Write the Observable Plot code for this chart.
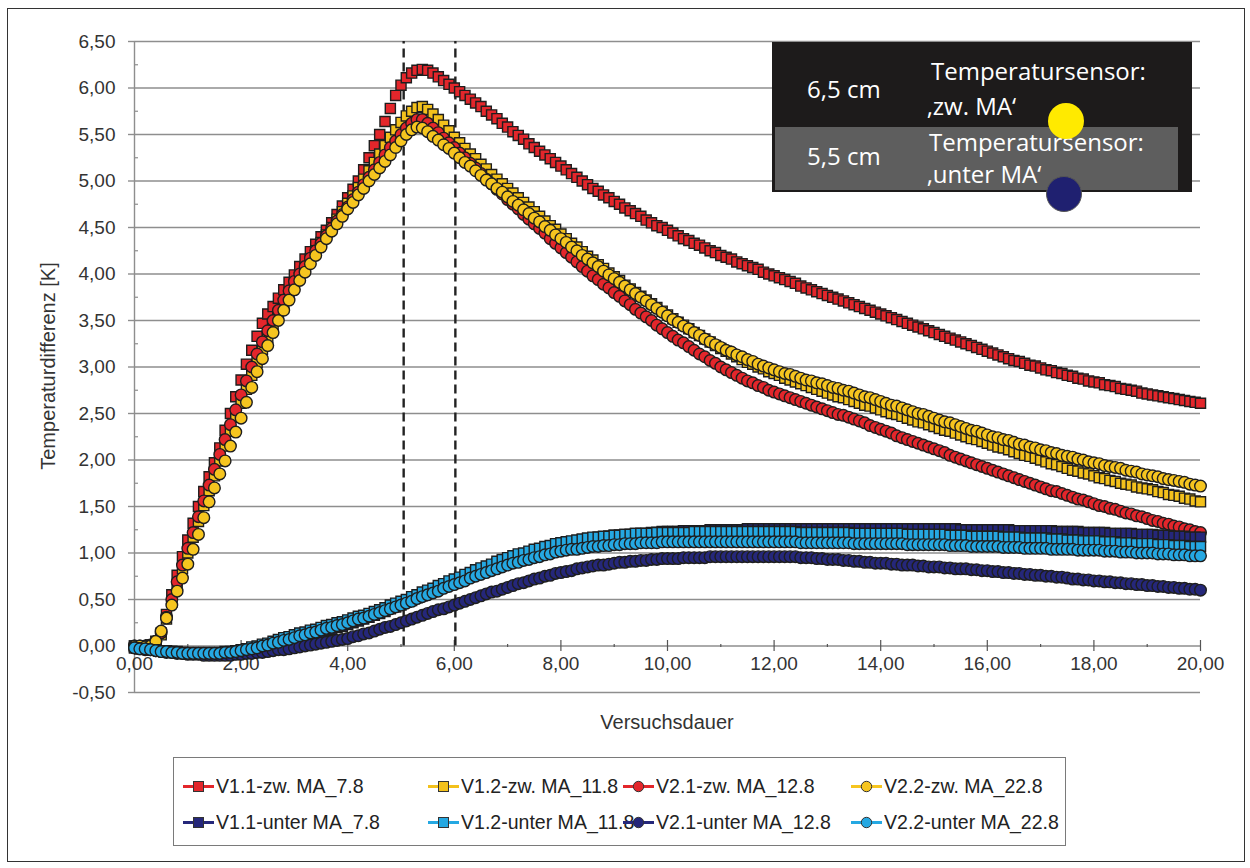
<!DOCTYPE html>
<html>
<head>
<meta charset="utf-8">
<script src="https://cdn.jsdelivr.net/npm/d3@7"></script>
<script src="https://cdn.jsdelivr.net/npm/@observablehq/plot@0.6"></script>
<style>
  html, body { margin: 0; padding: 0; background: #fff; }
  #wrap { position: relative; width: 1250px; height: 868px; overflow: hidden; background: #fff; font-family: "Liberation Sans", Arial, sans-serif; }
  #chart { position: absolute; left: 0; top: 0; }
  .abs { position: absolute; white-space: nowrap; }
  .note { font-family: "Open Sans", sans-serif; color: #fff; font-size: 24px; line-height: 1; }
  .leg { position: absolute; display: flex; align-items: center; font-size: 21px; color: #222; white-space: nowrap; }
  .leg svg { margin-right: 2px; flex: none; }
  .leg span { display: inline-block; transform: scaleX(0.93); transform-origin: left center; }
</style>
</head>
<body>
<div id="wrap">
  <div id="chart"></div>
</div>
<script>
// ---------------- data ----------------
const times = [
0,0.1,0.2,0.3,0.4,0.5,0.6,0.7,0.8,0.9,
1,1.1,1.2,1.3,1.4,1.5,1.6,1.7,1.8,1.9,
2,2.1,2.2,2.3,2.4,2.5,2.6,2.7,2.8,2.9,
3,3.1,3.2,3.3,3.4,3.5,3.6,3.7,3.8,3.9,
4,4.1,4.2,4.3,4.4,4.5,4.6,4.7,4.8,4.9,
5,5.1,5.2,5.3,5.4,5.5,5.6,5.7,5.8,5.9,
6,6.1,6.2,6.3,6.4,6.5,6.6,6.7,6.8,6.9,
7,7.1,7.2,7.3,7.4,7.5,7.6,7.7,7.8,7.9,
8,8.1,8.2,8.3,8.4,8.5,8.6,8.7,8.8,8.9,
9,9.1,9.2,9.3,9.4,9.5,9.6,9.7,9.8,9.9,
10,10.1,10.2,10.3,10.4,10.5,10.6,10.7,10.8,10.9,
11,11.1,11.2,11.3,11.4,11.5,11.6,11.7,11.8,11.9,
12,12.1,12.2,12.3,12.4,12.5,12.6,12.7,12.8,12.9,
13,13.1,13.2,13.3,13.4,13.5,13.6,13.7,13.8,13.9,
14,14.1,14.2,14.3,14.4,14.5,14.6,14.7,14.8,14.9,
15,15.1,15.2,15.3,15.4,15.5,15.6,15.7,15.8,15.9,
16,16.1,16.2,16.3,16.4,16.5,16.6,16.7,16.8,16.9,
17,17.1,17.2,17.3,17.4,17.5,17.6,17.7,17.8,17.9,
18,18.1,18.2,18.3,18.4,18.5,18.6,18.7,18.8,18.9,
19,19.1,19.2,19.3,19.4,19.5,19.6,19.7,19.8,19.9,
20];

// V1.1-zw. MA_7.8 (red squares)
const v11zw = [
0.00,0.00,0.00,0.01,0.05,0.14,0.34,0.55,0.76,0.96,
1.14,1.32,1.50,1.66,1.82,1.97,2.13,2.32,2.50,2.68,
2.86,3.03,3.18,3.33,3.47,3.57,3.65,3.74,3.83,3.91,
3.99,4.08,4.16,4.24,4.32,4.40,4.47,4.55,4.64,4.73,
4.82,4.91,5.00,5.12,5.25,5.38,5.50,5.64,5.78,5.92,
6.03,6.11,6.16,6.19,6.20,6.19,6.16,6.12,6.08,6.04,
6.00,5.96,5.92,5.88,5.84,5.80,5.75,5.71,5.67,5.62,
5.58,5.53,5.49,5.45,5.40,5.36,5.32,5.28,5.24,5.20,
5.16,5.12,5.08,5.04,5.00,4.96,4.92,4.89,4.85,4.82,
4.78,4.75,4.71,4.68,4.65,4.62,4.58,4.55,4.52,4.50,
4.47,4.44,4.41,4.38,4.36,4.33,4.31,4.28,4.25,4.23,
4.20,4.18,4.16,4.13,4.11,4.09,4.07,4.05,4.02,4.00,
3.98,3.96,3.94,3.92,3.90,3.87,3.85,3.83,3.81,3.79,
3.77,3.75,3.73,3.71,3.69,3.67,3.65,3.63,3.61,3.59,
3.57,3.55,3.53,3.51,3.49,3.47,3.45,3.43,3.41,3.39,
3.37,3.35,3.33,3.31,3.29,3.27,3.25,3.23,3.21,3.19,
3.17,3.15,3.13,3.11,3.09,3.07,3.06,3.04,3.02,3.01,
2.99,2.97,2.96,2.94,2.93,2.91,2.90,2.88,2.87,2.85,
2.84,2.83,2.81,2.80,2.79,2.77,2.76,2.75,2.74,2.72,
2.71,2.70,2.69,2.68,2.67,2.66,2.65,2.64,2.63,2.62,
2.61];

// V1.2-zw. MA_11.8 (yellow squares)
const v12zw = [
0.00,0.00,0.00,0.01,0.04,0.12,0.29,0.47,0.65,0.83,
1.00,1.17,1.34,1.51,1.67,1.83,1.99,2.15,2.31,2.46,
2.61,2.76,2.91,3.05,3.19,3.32,3.44,3.56,3.68,3.79,
3.89,3.98,4.07,4.16,4.25,4.34,4.42,4.50,4.59,4.67,
4.76,4.84,4.93,5.02,5.11,5.20,5.29,5.38,5.47,5.55,
5.63,5.70,5.75,5.79,5.80,5.77,5.72,5.66,5.60,5.54,
5.47,5.41,5.35,5.29,5.24,5.18,5.13,5.07,5.02,4.97,
4.92,4.87,4.82,4.77,4.72,4.67,4.62,4.57,4.52,4.48,
4.43,4.38,4.33,4.29,4.24,4.19,4.15,4.10,4.06,4.01,
3.97,3.93,3.88,3.84,3.80,3.76,3.72,3.68,3.64,3.60,
3.56,3.52,3.48,3.45,3.41,3.37,3.34,3.30,3.27,3.23,
3.20,3.17,3.14,3.11,3.08,3.05,3.03,3.00,2.98,2.95,
2.93,2.91,2.88,2.86,2.84,2.82,2.80,2.78,2.76,2.74,
2.72,2.70,2.68,2.67,2.65,2.63,2.61,2.59,2.58,2.56,
2.54,2.52,2.50,2.49,2.47,2.45,2.43,2.41,2.40,2.38,
2.36,2.34,2.32,2.31,2.29,2.27,2.25,2.23,2.22,2.20,
2.18,2.16,2.14,2.13,2.11,2.09,2.07,2.05,2.04,2.02,
2.00,1.98,1.96,1.95,1.93,1.91,1.89,1.88,1.86,1.85,
1.83,1.81,1.80,1.78,1.77,1.75,1.74,1.73,1.71,1.70,
1.69,1.68,1.66,1.65,1.63,1.62,1.61,1.59,1.58,1.56,
1.55];

// V2.1-zw. MA_12.8 (red circles)
const v21zw = [
0.00,0.00,0.00,0.01,0.05,0.14,0.31,0.50,0.69,0.87,
1.05,1.22,1.39,1.56,1.73,1.90,2.06,2.22,2.38,2.54,
2.70,2.85,3.00,3.14,3.27,3.39,3.50,3.61,3.72,3.82,
3.92,4.00,4.08,4.17,4.25,4.33,4.41,4.49,4.57,4.64,
4.72,4.80,4.88,4.96,5.04,5.12,5.20,5.28,5.36,5.43,
5.50,5.57,5.62,5.66,5.66,5.62,5.57,5.52,5.46,5.41,
5.36,5.30,5.25,5.19,5.14,5.08,5.02,4.97,4.91,4.86,
4.80,4.75,4.70,4.64,4.59,4.54,4.49,4.44,4.38,4.33,
4.28,4.23,4.18,4.13,4.08,4.03,3.98,3.94,3.89,3.85,
3.80,3.76,3.71,3.67,3.62,3.58,3.54,3.50,3.45,3.41,
3.37,3.33,3.29,3.26,3.22,3.18,3.14,3.11,3.07,3.04,
3.00,2.97,2.94,2.91,2.88,2.85,2.83,2.80,2.78,2.75,
2.73,2.71,2.69,2.67,2.65,2.63,2.61,2.59,2.57,2.55,
2.53,2.51,2.49,2.48,2.46,2.44,2.42,2.40,2.37,2.35,
2.33,2.31,2.29,2.26,2.24,2.22,2.20,2.18,2.16,2.14,
2.12,2.10,2.08,2.05,2.03,2.01,1.99,1.97,1.95,1.93,
1.91,1.89,1.87,1.85,1.83,1.81,1.79,1.77,1.75,1.73,
1.71,1.69,1.67,1.66,1.64,1.62,1.60,1.58,1.57,1.55,
1.53,1.51,1.50,1.48,1.47,1.45,1.43,1.42,1.40,1.39,
1.37,1.35,1.34,1.32,1.31,1.29,1.28,1.26,1.25,1.23,
1.22];

// V2.2-zw. MA_22.8 (yellow circles)
const v22zw = [
0.00,0.00,-0.01,0.00,0.05,0.16,0.30,0.44,0.59,0.73,
0.88,1.04,1.20,1.38,1.55,1.70,1.85,1.99,2.15,2.30,
2.45,2.62,2.78,2.95,3.09,3.23,3.37,3.50,3.61,3.72,
3.83,3.93,4.02,4.11,4.20,4.29,4.38,4.46,4.54,4.62,
4.70,4.77,4.85,4.92,5.00,5.07,5.14,5.21,5.28,5.36,
5.43,5.50,5.55,5.58,5.57,5.53,5.48,5.44,5.39,5.35,
5.30,5.25,5.20,5.16,5.11,5.06,5.01,4.97,4.92,4.88,
4.83,4.78,4.74,4.69,4.65,4.60,4.56,4.51,4.47,4.42,
4.38,4.34,4.29,4.25,4.20,4.16,4.12,4.08,4.03,3.99,
3.95,3.91,3.87,3.83,3.79,3.75,3.71,3.67,3.63,3.59,
3.55,3.51,3.48,3.44,3.41,3.37,3.34,3.30,3.27,3.24,
3.21,3.18,3.16,3.13,3.11,3.08,3.06,3.03,3.01,2.99,
2.97,2.95,2.93,2.92,2.90,2.88,2.86,2.85,2.83,2.82,
2.80,2.78,2.77,2.75,2.74,2.72,2.70,2.68,2.67,2.65,
2.63,2.61,2.59,2.58,2.56,2.54,2.52,2.50,2.49,2.47,
2.45,2.43,2.41,2.40,2.38,2.36,2.34,2.32,2.31,2.29,
2.27,2.25,2.24,2.22,2.21,2.19,2.17,2.16,2.14,2.13,
2.11,2.10,2.08,2.07,2.05,2.04,2.03,2.01,2.00,1.98,
1.97,1.96,1.94,1.93,1.92,1.91,1.89,1.88,1.87,1.85,
1.84,1.83,1.82,1.80,1.79,1.78,1.77,1.76,1.74,1.73,
1.72];

// V1.1-unter MA_7.8 (navy squares)
const v11unter = [
-0.02,-0.03,-0.03,-0.04,-0.04,-0.05,-0.06,-0.06,-0.07,-0.07,
-0.08,-0.08,-0.08,-0.08,-0.08,-0.08,-0.08,-0.08,-0.07,-0.07,
-0.06,-0.05,-0.04,-0.03,-0.02,-0.01,0.01,0.02,0.04,0.05,
0.07,0.09,0.10,0.12,0.13,0.15,0.17,0.18,0.20,0.21,
0.23,0.25,0.27,0.29,0.31,0.33,0.35,0.37,0.40,0.42,
0.44,0.47,0.49,0.52,0.54,0.57,0.60,0.62,0.65,0.67,
0.70,0.72,0.75,0.77,0.80,0.82,0.84,0.86,0.89,0.91,
0.93,0.95,0.97,0.98,1.00,1.02,1.03,1.05,1.06,1.08,
1.09,1.10,1.12,1.13,1.14,1.15,1.16,1.17,1.17,1.18,
1.19,1.19,1.20,1.20,1.21,1.21,1.21,1.22,1.22,1.23,
1.23,1.23,1.23,1.24,1.24,1.24,1.24,1.24,1.25,1.25,
1.25,1.25,1.25,1.25,1.25,1.26,1.26,1.26,1.26,1.26,
1.26,1.26,1.26,1.26,1.26,1.26,1.26,1.26,1.26,1.26,
1.26,1.26,1.26,1.26,1.26,1.26,1.26,1.26,1.26,1.26,
1.26,1.26,1.26,1.26,1.26,1.26,1.26,1.26,1.26,1.26,
1.26,1.26,1.26,1.26,1.26,1.25,1.25,1.25,1.25,1.25,
1.25,1.25,1.25,1.25,1.25,1.24,1.24,1.24,1.24,1.24,
1.24,1.24,1.24,1.23,1.23,1.23,1.23,1.23,1.22,1.22,
1.22,1.22,1.22,1.21,1.21,1.21,1.21,1.21,1.20,1.20,
1.20,1.20,1.19,1.19,1.19,1.18,1.18,1.18,1.17,1.17,
1.17];

// V1.2-unter MA_11.8 (light blue squares)
const v12unter = [
-0.02,-0.03,-0.03,-0.04,-0.04,-0.05,-0.05,-0.06,-0.06,-0.07,
-0.07,-0.07,-0.07,-0.07,-0.07,-0.07,-0.07,-0.06,-0.06,-0.05,
-0.04,-0.03,-0.01,0.00,0.02,0.03,0.05,0.07,0.09,0.10,
0.12,0.14,0.15,0.17,0.18,0.20,0.22,0.23,0.25,0.26,
0.28,0.30,0.32,0.33,0.35,0.37,0.39,0.41,0.44,0.46,
0.48,0.50,0.53,0.55,0.58,0.60,0.62,0.65,0.67,0.70,
0.72,0.74,0.77,0.79,0.82,0.84,0.86,0.88,0.91,0.93,
0.95,0.97,0.99,1.00,1.02,1.04,1.05,1.07,1.08,1.10,
1.11,1.12,1.13,1.14,1.15,1.16,1.17,1.17,1.18,1.18,
1.19,1.19,1.20,1.20,1.21,1.21,1.21,1.21,1.22,1.22,
1.22,1.22,1.22,1.22,1.22,1.23,1.23,1.23,1.23,1.23,
1.23,1.23,1.23,1.23,1.23,1.23,1.23,1.23,1.23,1.23,
1.23,1.23,1.23,1.23,1.23,1.22,1.22,1.22,1.22,1.22,
1.22,1.22,1.22,1.22,1.22,1.21,1.21,1.21,1.21,1.21,
1.21,1.21,1.21,1.21,1.21,1.20,1.20,1.20,1.20,1.20,
1.20,1.20,1.20,1.19,1.19,1.19,1.19,1.18,1.18,1.18,
1.18,1.18,1.18,1.17,1.17,1.17,1.17,1.16,1.16,1.16,
1.16,1.16,1.15,1.15,1.15,1.14,1.14,1.14,1.13,1.13,
1.13,1.13,1.12,1.12,1.12,1.11,1.11,1.11,1.10,1.10,
1.10,1.10,1.09,1.09,1.09,1.08,1.08,1.08,1.07,1.07,
1.07];

// V2.1-unter MA_12.8 (navy circles)
const v21unter = [
-0.02,-0.03,-0.04,-0.04,-0.05,-0.06,-0.07,-0.07,-0.08,-0.08,
-0.09,-0.09,-0.09,-0.10,-0.10,-0.10,-0.10,-0.10,-0.10,-0.09,
-0.09,-0.08,-0.08,-0.07,-0.07,-0.06,-0.05,-0.04,-0.04,-0.03,
-0.02,-0.01,0.00,0.01,0.02,0.03,0.04,0.05,0.06,0.07,
0.08,0.10,0.11,0.13,0.14,0.16,0.18,0.20,0.21,0.23,
0.25,0.27,0.29,0.31,0.33,0.35,0.37,0.39,0.40,0.42,
0.44,0.46,0.48,0.50,0.52,0.54,0.56,0.58,0.59,0.61,
0.63,0.65,0.67,0.68,0.70,0.72,0.73,0.75,0.76,0.78,
0.79,0.80,0.81,0.83,0.84,0.85,0.86,0.87,0.87,0.88,
0.89,0.90,0.90,0.91,0.91,0.92,0.92,0.93,0.93,0.94,
0.94,0.94,0.94,0.95,0.95,0.95,0.95,0.95,0.96,0.96,
0.96,0.96,0.96,0.96,0.96,0.96,0.96,0.96,0.96,0.96,
0.96,0.96,0.96,0.96,0.96,0.95,0.95,0.95,0.94,0.94,
0.93,0.93,0.93,0.92,0.92,0.91,0.91,0.90,0.90,0.89,
0.89,0.89,0.88,0.88,0.87,0.87,0.87,0.86,0.86,0.85,
0.85,0.85,0.84,0.84,0.83,0.83,0.83,0.82,0.82,0.81,
0.81,0.80,0.80,0.79,0.79,0.78,0.78,0.77,0.77,0.76,
0.76,0.75,0.75,0.74,0.74,0.73,0.72,0.72,0.71,0.71,
0.70,0.70,0.69,0.69,0.68,0.68,0.67,0.67,0.66,0.66,
0.65,0.65,0.64,0.64,0.63,0.63,0.62,0.62,0.61,0.61,
0.60];

// V2.2-unter MA_22.8 (light blue circles)
const v22unter = [
-0.02,-0.03,-0.03,-0.04,-0.05,-0.06,-0.06,-0.07,-0.07,-0.08,
-0.08,-0.08,-0.08,-0.08,-0.08,-0.08,-0.08,-0.07,-0.07,-0.06,
-0.05,-0.04,-0.03,-0.02,0.00,0.01,0.03,0.04,0.06,0.07,
0.09,0.11,0.12,0.14,0.15,0.17,0.19,0.20,0.22,0.23,
0.25,0.27,0.29,0.30,0.32,0.34,0.36,0.38,0.40,0.42,
0.44,0.46,0.48,0.51,0.53,0.55,0.57,0.59,0.62,0.64,
0.66,0.68,0.70,0.73,0.75,0.77,0.79,0.81,0.83,0.85,
0.87,0.89,0.90,0.92,0.93,0.95,0.96,0.98,0.99,1.01,
1.02,1.03,1.04,1.04,1.05,1.06,1.07,1.07,1.08,1.08,
1.09,1.09,1.10,1.10,1.10,1.11,1.11,1.11,1.11,1.12,
1.12,1.12,1.12,1.12,1.12,1.12,1.12,1.12,1.12,1.12,
1.12,1.12,1.12,1.12,1.12,1.12,1.12,1.12,1.12,1.12,
1.12,1.12,1.12,1.12,1.12,1.11,1.11,1.11,1.11,1.11,
1.11,1.11,1.11,1.11,1.11,1.10,1.10,1.10,1.10,1.10,
1.10,1.10,1.10,1.10,1.10,1.09,1.09,1.09,1.09,1.09,
1.09,1.09,1.09,1.08,1.08,1.08,1.08,1.07,1.07,1.07,
1.07,1.07,1.07,1.06,1.06,1.06,1.06,1.05,1.05,1.05,
1.05,1.05,1.04,1.04,1.04,1.04,1.04,1.03,1.03,1.03,
1.03,1.03,1.02,1.02,1.02,1.01,1.01,1.01,1.00,1.00,
1.00,1.00,0.99,0.99,0.99,0.98,0.98,0.98,0.97,0.97,
0.97];

const seriesNames = [
  "V1.1-zw. MA_7.8", "V1.2-zw. MA_11.8", "V2.1-zw. MA_12.8", "V2.2-zw. MA_22.8",
  "V1.1-unter MA_7.8", "V1.2-unter MA_11.8", "V2.1-unter MA_12.8", "V2.2-unter MA_22.8"
];
const seriesValues = [v11zw, v12zw, v21zw, v22zw, v11unter, v12unter, v21unter, v22unter];
const seriesSymbols = ["square", "square", "circle", "circle", "square", "square", "circle", "circle"];
const seriesColors = ["#e3262b", "#f3c11c", "#e3262b", "#f6c51f", "#25277a", "#25a8e2", "#25277a", "#25a8e2"];

const yTicks = [-0.5, 0, 0.5, 1, 1.5, 2, 2.5, 3, 3.5, 4, 4.5, 5, 5.5, 6, 6.5];
const yMinorTicks = [-0.25, 0.25, 0.75, 1.25, 1.75, 2.25, 2.75, 3.25, 3.75, 4.25, 4.75, 5.25, 5.75, 6.25];
const xTicks = [0, 2, 4, 6, 8, 10, 12, 14, 16, 18, 20];
const xMinorTicks = [1, 3, 5, 7, 9, 11, 13, 15, 17, 19];
const markerLines = [5.05, 6.02];   // dashed vertical lines

const xTitle = "Versuchsdauer";
const yTitle = "Temperaturdifferenz [K]";
const noteRows = [
  {depth: "6,5 cm", line1: "Temperatursensor:", line2: "\u201Azw. MA\u2018"},
  {depth: "5,5 cm", line1: "Temperatursensor:", line2: "\u201Aunter MA\u2018"}
];

// ---------------- chart ----------------
const fmt = d => d.toFixed(2).replace(".", ",");
const GRID = "#8e8e8e";

const dotMarks = seriesValues.map((vals, k) =>
  Plot.dot(vals, {
    x: (d, i) => times[i],
    y: d => d,
    symbol: seriesSymbols[k],
    r: seriesSymbols[k] === "square" ? 5.7 : 5.8,
    fill: seriesColors[k],
    stroke: "#1e1e1e",
    strokeWidth: 1.4
  })
);

const chart = Plot.plot({
  width: 1250,
  height: 868,
  marginLeft: 134,
  marginRight: 50,
  marginTop: 41,
  marginBottom: 176,
  x: {domain: [0, 20], axis: null},
  y: {domain: [-0.5, 6.5], axis: null},
  style: {fontFamily: "'Liberation Sans', Arial, sans-serif", fontSize: "19px", color: "#333", background: "transparent", overflow: "visible"},
  marks: [
    Plot.gridY(yTicks, {stroke: GRID, strokeOpacity: 1, strokeWidth: 1.4}),
    Plot.ruleX([0], {stroke: GRID, strokeWidth: 1.4}),
    Plot.axisY(yTicks, {tickSize: 6, tickPadding: 13, tickFormat: fmt, fontSize: 19, stroke: GRID, strokeWidth: 1.4, fill: "#333", label: null}),
    Plot.ruleY(yMinorTicks, {x1: () => 0, x2: () => 0, insetRight: -4, stroke: GRID, strokeWidth: 1.2}),
    Plot.ruleX(xTicks, {y1: () => 0, y2: () => 0, insetTop: -5.5, insetBottom: -5.5, stroke: "#555", strokeWidth: 1.2}),
    Plot.ruleX(xMinorTicks, {y1: () => 0, y2: () => 0, insetTop: -1.5, insetBottom: -1.5, stroke: "#555", strokeWidth: 1.2}),
    Plot.text(xTicks, {x: d => d, y: () => 0, dy: 18, text: fmt, fontSize: 19, fill: "#333"}),
    Plot.ruleX(markerLines, {y1: () => 0, y2: () => 6.5, stroke: "#222", strokeWidth: 2.4, strokeDasharray: "9,5"}),
    ...dotMarks
  ]
});
document.getElementById("chart").appendChild(chart);

// ---------------- HTML overlays ----------------
const wrap = document.getElementById("wrap");
function add(html) { wrap.insertAdjacentHTML("beforeend", html); }

// outer frame
add(`<div class="abs" style="left:7px;top:8px;width:1236px;height:852px;border:1.5px solid #333;"></div>`);

// axis titles
add(`<div class="abs" style="left:667px;top:722px;transform:translate(-50%,-50%);font-size:20px;color:#333;">${xTitle}</div>`);
add(`<div class="abs" style="left:48px;top:366px;transform:translate(-50%,-50%) rotate(-90deg);font-size:20px;color:#333;">${yTitle}</div>`);

// annotation box
add(`<div class="abs" style="left:772px;top:42px;width:420px;height:150px;background:#1d1b1b;"></div>`);
add(`<div class="abs" style="left:775px;top:127px;width:403px;height:63px;background:#5e5e5e;"></div>`);
add(`<div class="abs note" style="left:807px;top:89px;transform:translateY(-50%);">${noteRows[0].depth}</div>`);
add(`<div class="abs note" style="left:931px;top:71px;transform:translateY(-50%);">${noteRows[0].line1}</div>`);
add(`<div class="abs note" style="left:927px;top:106px;transform:translateY(-50%);">${noteRows[0].line2}</div>`);
add(`<div class="abs note" style="left:807px;top:156px;transform:translateY(-50%);">${noteRows[1].depth}</div>`);
add(`<div class="abs note" style="left:929px;top:142px;transform:translateY(-50%);">${noteRows[1].line1}</div>`);
add(`<div class="abs note" style="left:927px;top:174px;transform:translateY(-50%);">${noteRows[1].line2}</div>`);
add(`<div class="abs" style="left:1048px;top:103px;width:36px;height:36px;border-radius:50%;background:#ffea00;"></div>`);
add(`<div class="abs" style="left:1046px;top:176px;width:36px;height:36px;border-radius:50%;background:#1f2070;border:1px solid #555;box-sizing:border-box;"></div>`);

// legend
add(`<div class="abs" style="left:173px;top:757px;width:893px;height:89px;border:1.5px solid #7a7a7a;box-sizing:border-box;"></div>`);
const legCols = [183, 428, 623, 851];
const legRows = [786, 822];
function legendIcon(k) {
  const c = seriesColors[k];
  const m = seriesSymbols[k] === "square"
    ? `<rect x="10.5" y="3.5" width="10" height="10" fill="${c}" stroke="#333" stroke-width="1"/>`
    : `<circle cx="15.5" cy="8.5" r="5.2" fill="${c}" stroke="#333" stroke-width="1"/>`;
  return `<svg width="31" height="17" viewBox="0 0 31 17"><line x1="0" y1="8.5" x2="31" y2="8.5" stroke="${c}" stroke-width="3"/>${m}</svg>`;
}
seriesNames.forEach((name, k) => {
  const col = k % 4, row = Math.floor(k / 4);
  add(`<div class="leg" style="left:${legCols[col]}px;top:${legRows[row]}px;transform:translateY(-50%);">${legendIcon(k)}<span>${name}</span></div>`);
});
</script>
</body>
</html>
